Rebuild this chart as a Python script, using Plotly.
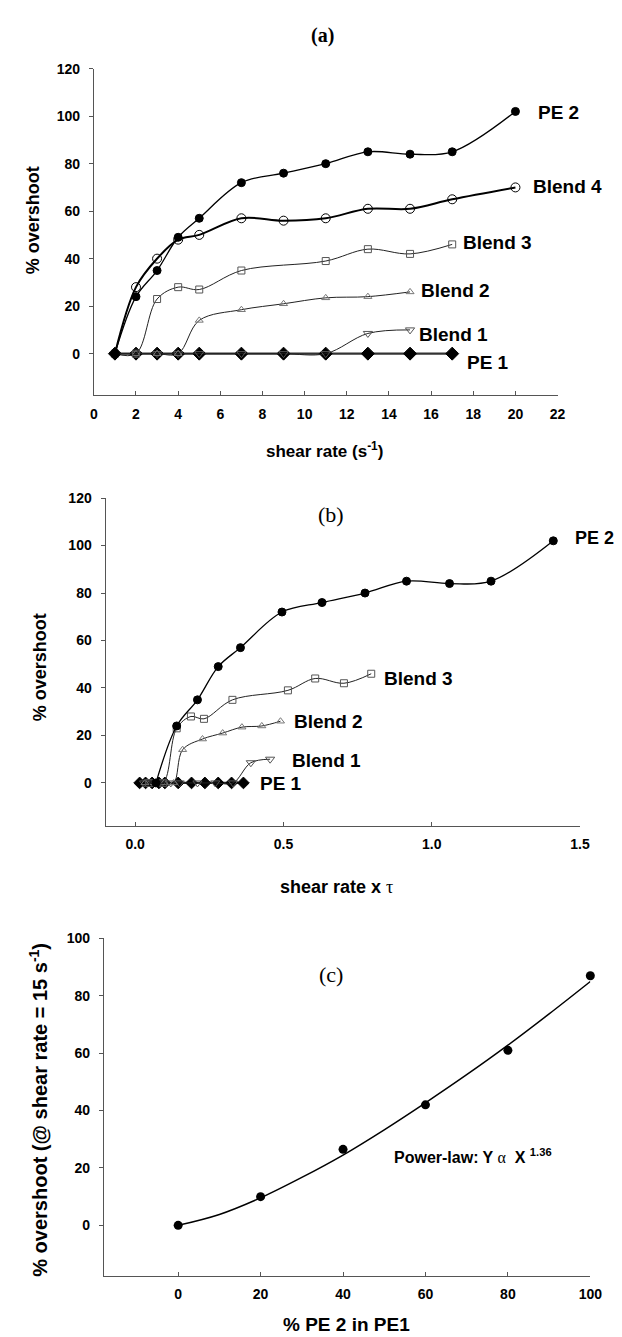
import plotly.graph_objects as go

W, H = 622, 1337

# ---------------- data: panel (a) % overshoot vs shear rate ----------------
shear_pe2 = [1, 2, 3, 4, 5, 7, 9, 11, 13, 15, 17, 20]
os_pe2 = [0, 24, 35, 49, 57, 72, 76, 80, 85, 84, 85, 102]
shear_b4 = [1, 2, 3, 4, 5, 7, 9, 11, 13, 15, 17, 20]
os_b4 = [0, 28, 40, 48, 50, 57, 56, 57, 61, 61, 65, 70]
shear_b3 = [1, 2, 3, 4, 5, 7, 11, 13, 15, 17]
os_b3 = [0, 0, 23, 28, 27, 35, 39, 44, 42, 46]
shear_b2 = [1, 2, 3, 4, 5, 7, 9, 11, 13, 15]
os_b2 = [0, 0, 0, 0, 14, 18.5, 21, 23.5, 24, 26]
shear_b1 = [1, 2, 3, 4, 5, 7, 9, 11, 13, 15]
os_b1 = [0, 0, 0, 0, 0, 0, 0, 0, 8.5, 10]
shear_pe1 = [1, 2, 3, 4, 5, 7, 9, 11, 13, 15, 17]
os_pe1 = [0, 0, 0, 0, 0, 0, 0, 0, 0, 0, 0]

# ---------------- data: panel (b) % overshoot vs shear rate x tau ----------------
wi_pe2 = [0.07, 0.14, 0.21, 0.28, 0.355, 0.495, 0.63, 0.775, 0.915, 1.06, 1.20, 1.41]
wi_b3 = [0.047, 0.094, 0.14, 0.188, 0.232, 0.328, 0.515, 0.607, 0.704, 0.796]
wi_b2 = [0.033, 0.065, 0.098, 0.13, 0.16, 0.227, 0.295, 0.36, 0.427, 0.49]
wi_b1 = [0.03, 0.06, 0.09, 0.12, 0.15, 0.21, 0.27, 0.33, 0.39, 0.455]
wi_pe1 = [0.015, 0.035, 0.057, 0.08, 0.10, 0.145, 0.19, 0.235, 0.28, 0.325, 0.365]

# ---------------- data: panel (c) overshoot at 15 1/s vs % PE2 ----------------
pct_pe2 = [0, 20, 40, 60, 80, 100]
os_at15 = [0, 10, 26.5, 42, 61, 87]
fit_x = [0, 10, 20, 30, 40, 50, 60, 70, 80, 90, 100]
fit_y = [0, 3.8, 9.6, 16.7, 24.5, 33.3, 42.7, 52.5, 62.8, 73.7, 85]

SANS = "Liberation Sans, Arial, sans-serif"
SERIF = "Liberation Serif, Times New Roman, serif"

fig = go.Figure()


def add(x, y, xa, ya, symbol, msize, mcolor, lw, lcolor, mline=1.0):
    fig.add_trace(go.Scatter(
        x=x, y=y, xaxis=xa, yaxis=ya, mode="lines+markers",
        line=dict(shape="spline", smoothing=1.0, width=lw, color=lcolor),
        marker=dict(symbol=symbol, size=msize, color=mcolor,
                    line=dict(width=mline, color=mcolor)),
        showlegend=False, cliponaxis=False))


# panel (a)
add(shear_pe1, os_pe1, "x", "y", "diamond", 10, "black", 2.2, "#333333")
add(shear_b1, os_b1, "x", "y", "triangle-down-open", 8, "#555555", 1.0, "#222222")
add(shear_b2, os_b2, "x", "y", "triangle-up-open", 7, "#777777", 1.0, "#222222")
add(shear_b3, os_b3, "x", "y", "square-open", 7, "#555555", 1.0, "#222222")
add(shear_b4, os_b4, "x", "y", "circle-open", 9, "black", 2.0, "black")
add(shear_pe2, os_pe2, "x", "y", "circle", 8, "black", 1.3, "black")

# panel (b)
add(wi_pe1, os_pe1, "x2", "y2", "diamond", 9, "black", 2.2, "#333333")
add(wi_b1, os_b1, "x2", "y2", "triangle-down-open", 8, "#555555", 1.0, "#222222")
add(wi_b2, os_b2, "x2", "y2", "triangle-up-open", 7, "#777777", 1.0, "#222222")
add(wi_b3, os_b3, "x2", "y2", "square-open", 7, "#555555", 1.0, "#222222")
add(wi_pe2, os_pe2, "x2", "y2", "circle", 8, "black", 1.3, "black")

# panel (c)
fig.add_trace(go.Scatter(x=fit_x, y=fit_y, xaxis="x3", yaxis="y3", mode="lines",
                         line=dict(shape="spline", smoothing=1.0, width=1.5, color="black"),
                         showlegend=False))
fig.add_trace(go.Scatter(x=pct_pe2, y=os_at15, xaxis="x3", yaxis="y3", mode="markers",
                         marker=dict(symbol="circle", size=9, color="black"),
                         showlegend=False, cliponaxis=False))


def dom_x(l, r):
    return [l / W, r / W]


def dom_y(top, bottom):
    return [1 - bottom / H, 1 - top / H]


tickfont = dict(family=SANS, size=14, color="black", weight="bold")
axis_common = dict(showline=True, linecolor="#555555", linewidth=1, showgrid=False,
                   zeroline=False, ticks="outside", ticklen=4, tickcolor="#555555",
                   tickfont=tickfont)

layout = dict(
    width=W, height=H, margin=dict(l=0, r=0, t=0, b=0),
    paper_bgcolor="white", plot_bgcolor="white", showlegend=False,
    xaxis=dict(axis_common, domain=dom_x(84, 560), range=[0, 22], tickmode="array",
               tickvals=[0, 2, 4, 6, 8, 10, 12, 14, 16, 18, 20, 22], anchor="y",
               ticks="inside", ticklabelstandoff=6),
    yaxis=dict(axis_common, domain=dom_y(53, 381), range=[-17.3, 120], tickmode="array",
               tickvals=[0, 20, 40, 60, 80, 100, 120], anchor="x", ticklabelstandoff=6),
    xaxis2=dict(axis_common, domain=dom_x(96, 583), range=[-0.1, 1.5], tickmode="array",
                tickvals=[0, 0.5, 1.0, 1.5], ticktext=["0.0", "0.5", "1.0", "1.5"],
                anchor="y2", ticks="inside", ticklabelstandoff=5),
    yaxis2=dict(axis_common, domain=dom_y(485, 815), range=[-18.2, 120], tickmode="array",
                tickvals=[0, 20, 40, 60, 80, 100, 120], anchor="x2", ticklabelstandoff=6),
    xaxis3=dict(axis_common, domain=dom_x(94.4, 593.6), range=[-18, 100], tickmode="array",
                tickvals=[0, 20, 40, 60, 80, 100], anchor="y3", ticks="inside",
                ticklabelstandoff=5),
    yaxis3=dict(axis_common, domain=dom_y(928, 1268), range=[-17.8, 100], tickmode="array",
                tickvals=[0, 20, 40, 60, 80, 100], anchor="x3", ticklabelstandoff=6),
)
fig.update_layout(**layout)


def ann(text, x, y, size, xanchor="left", family=SANS, weight="bold", angle=0):
    fig.add_annotation(text=text, x=x / W, y=1 - y / H, xref="paper", yref="paper",
                       xanchor=xanchor, yanchor="middle", showarrow=False, textangle=angle,
                       font=dict(family=family, size=size, color="black", weight=weight))


# panel titles
ann("(a)", 319, 20, 20, "center", SERIF, "bold")
ann("(b)", 327, 502, 22, "center", SERIF, "normal")
ann("(c)", 327, 964, 22, "center", SERIF, "normal")

# series labels (a)
ann("PE 2", 538, 97, 19)
ann("Blend 4", 533, 172, 19)
ann("Blend 3", 461, 228, 19)
ann("Blend 2", 418, 276, 19)
ann("Blend 1", 416, 320, 19)
ann("PE 1", 465, 349, 19)

# series labels (b)
ann("PE 2", 576, 525, 18)
ann("Blend 3", 380, 666, 19)
ann("Blend 2", 287, 710, 19)
ann("Blend 1", 285, 749, 19)
ann("PE 1", 252, 772, 19)

# power law label (c)
ann("Power-law: Y <span style='font-family:Liberation Serif, serif; font-weight:normal'>α</span>  X <sup>1.36</sup>",
    390, 1147, 16, "left", SANS)

# axis titles
ann("shear rate (s<sup>-1</sup>)", 321, 437, 17, "center", SANS)
ann("shear rate x <span style='font-family:Liberation Serif, serif; font-weight:normal'>τ</span>",
    333, 876, 18, "center", SANS)
ann("% PE 2 in PE1", 343, 1316, 19, "center", SANS)
ann("% overshoot", 21, 205, 18, "center", SANS, angle=-90)
ann("% overshoot", 29, 655, 18, "center", SANS, angle=-90)
ann("% overshoot (@ shear rate = 15 s<sup>-1</sup>)", 27, 1100, 20, "center", SANS, angle=-90)

fig.write_html("out.html")
